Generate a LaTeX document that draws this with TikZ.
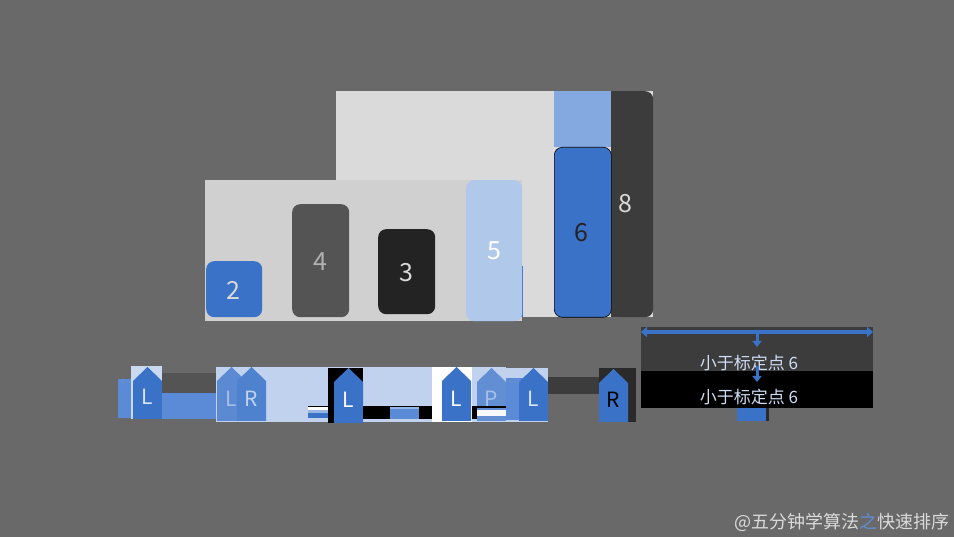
\documentclass[tikz,border=0pt]{standalone}
\usepackage{fontspec}
\setmainfont{Noto Sans CJK SC}
\usetikzlibrary{arrows.meta}
\definecolor{bgc}{HTML}{696969}
\definecolor{lightA}{HTML}{DADADA}
\definecolor{lightB}{HTML}{D0D0D0}
\definecolor{qblue}{HTML}{3A72C8}
\definecolor{topblue}{HTML}{84A8E0}
\definecolor{midblue}{HTML}{5B8BD6}
\definecolor{paleblue}{HTML}{C0D2EE}
\definecolor{fiveblue}{HTML}{B0C8EA}
\definecolor{gfour}{HTML}{545454}
\definecolor{gthree}{HTML}{232323}
\definecolor{geight}{HTML}{3C3C3C}
\definecolor{gbox}{HTML}{2A2A2A}
\definecolor{txtblue}{HTML}{D0DCF4}
\tikzset{
  bar/.style={rectangle, rounded corners=8pt, inner sep=0pt, anchor=north west},
  num/.style={font=\fontsize{25}{25}\selectfont, inner sep=0pt},
  mlabel/.style={font=\fontsize{21}{21}\selectfont, inner sep=0pt},
  cjk/.style={font=\fontsize{17}{17}\selectfont, text=txtblue, inner sep=0pt},
  barrow/.style={draw=qblue, line width=3pt, -{Triangle[width=9pt,length=6pt]}},
  sarrow/.style={draw=qblue!80!white, line width=2.5pt, -{Triangle[width=7pt,length=5pt]}},
}
% marker: #1 name, #2 x left, #3 y top, #4 y bottom, #5 fill, #6 letter, #7 letter colour
\newcommand\qmarker[7]{%
  \fill[#5] (#2,#4) -- (#2,#3+14) -- (#2+14.5,#3) -- (#2+29,#3+14) -- (#2+29,#4) -- cycle;
  \node[mlabel, text=#7] (#1) at (#2+14.5,{#3+0.58*(#4-#3)}) {#6};}
\begin{document}
\begin{tikzpicture}[x=1pt,y=-1pt]
\useasboundingbox (0,0) rectangle (954,537);
\fill[bgc] (0,0) rectangle (954,537);

% ---------- upper bars ----------
\fill[lightA] (336,91) rectangle (653,317);
\fill[topblue] (554,91) rectangle (611,147);
\node[bar, fill=geight, minimum width=42pt, minimum height=226pt] (b8) at (611,91) {};
\fill[geight] (611,91) rectangle (625,317);
\node[num, text=lightA] at (625,204) {8};
\node[bar, fill=qblue, draw=black, line width=0.6pt, minimum width=57pt, minimum height=170pt] (b6) at (554,147) {};
\node[num, text=gthree] at (581,233) {6};

\fill[lightB] (205,180) rectangle (522,321);
\node[bar, fill=qblue, minimum width=56pt, minimum height=56pt] (b2) at (206,261) {};
\node[num, text=lightA] at (233,290) {2};
\node[bar, fill=gfour, minimum width=57pt, minimum height=113pt] (b4) at (292,204) {};
\node[num, text=lightB!85!black] at (320,262) {4};
\node[bar, fill=gthree, minimum width=57pt, minimum height=85pt] (b3) at (378,229) {};
\node[num, text=lightA] at (406,273) {3};
\fill[qblue] (520,266) rectangle (522.5,317);
\node[bar, fill=fiveblue, minimum width=56pt, minimum height=141pt] (b5) at (466,180) {};
\node[num, text=white] at (494,251) {5};

% ---------- lower strip ----------
\fill[midblue] (118,379) rectangle (133,418);
\coordinate (la1) at (132,382);
\coordinate (la2) at (119,382);
\draw[sarrow] (la1) -- (la2);
\fill[paleblue!85!white] (131,366) rectangle (162,419);
\qmarker{m1}{133}{367}{419}{qblue}{L}{paleblue!60!white}
\fill[gfour] (162,373) rectangle (216,393);
\fill[midblue] (162,393) rectangle (216,419);

\fill[paleblue] (216,367) rectangle (432,422);
\qmarker{m2}{217}{367}{421}{qblue!75!paleblue}{L}{paleblue!80!qblue}
\qmarker{m3}{237}{367}{421}{qblue!85!paleblue}{R}{paleblue}

\fill[black] (308,406) rectangle (328,407.5);
\fill[white] (308,407.5) rectangle (328,410);
\fill[paleblue!70!qblue] (308,410) rectangle (328,413);
\fill[qblue] (308,413) rectangle (328,418);

\fill[black] (328,368) rectangle (363,423);
\qmarker{m4}{334}{368}{423}{qblue}{L}{white}
\fill[black] (363,406) rectangle (432,419);
\fill[midblue] (390,407) rectangle (419,419);
\fill[paleblue!60!midblue] (390,407) rectangle (419,409);

\fill[white] (432,367) rectangle (472,422);
\qmarker{m5}{442}{367}{421}{qblue}{L}{white}

\fill[paleblue] (472,367) rectangle (506,422);
\qmarker{m6}{477}{368}{421}{qblue!70!paleblue}{P}{paleblue!80!qblue}
\fill[black] (472,406) rectangle (477,419);
\fill[black] (477,406) rectangle (506,408);
\fill[white!85!paleblue] (477,410) rectangle (506,416);

\fill[paleblue] (506,368) rectangle (548,422);
\fill[midblue] (506,378) rectangle (523,420);
\coordinate (ra1) at (507,382);
\coordinate (ra2) at (522,382);
\draw[sarrow] (ra1) -- (ra2);
\qmarker{m7}{519}{368}{421}{qblue}{L}{paleblue!60!white}

\fill[geight] (548,377) rectangle (599,394);
\fill[gbox] (599,368) rectangle (636,422);
\qmarker{m8}{599}{369}{422}{qblue}{R}{black}

% ---------- right panel ----------
\fill[geight] (641,327) rectangle (873,371);
\fill[black] (641,371) rectangle (873,408);
\coordinate (arL) at (641,332);
\coordinate (arR) at (873,332);
\draw[draw=qblue, line width=3.5pt, {Triangle[width=10pt,length=6pt]}-{Triangle[width=10pt,length=6pt]}] (arL) -- (arR);
\coordinate (d1a) at (757,332);
\coordinate (d1b) at (757,347);
\draw[barrow] (d1a) -- (d1b);
\node[cjk] (t1) at (749,363) {小于标定点 6};
\coordinate (d2a) at (757,366);
\coordinate (d2b) at (757,382);
\draw[barrow] (d2a) -- (d2b);
\node[cjk] (t2) at (749,397) {小于标定点 6};
\fill[gbox] (739,408) rectangle (769,421);
\fill[qblue] (737,408) rectangle (766,421);

% ---------- watermark ----------
\node[font=\fontsize{18}{18}\selectfont, text=lightA, inner sep=0pt, anchor=east] (wm) at (950,522)
  {@五分钟学算法\textcolor{qblue!80!white}{之}快速排序};
\end{tikzpicture}
\end{document}
